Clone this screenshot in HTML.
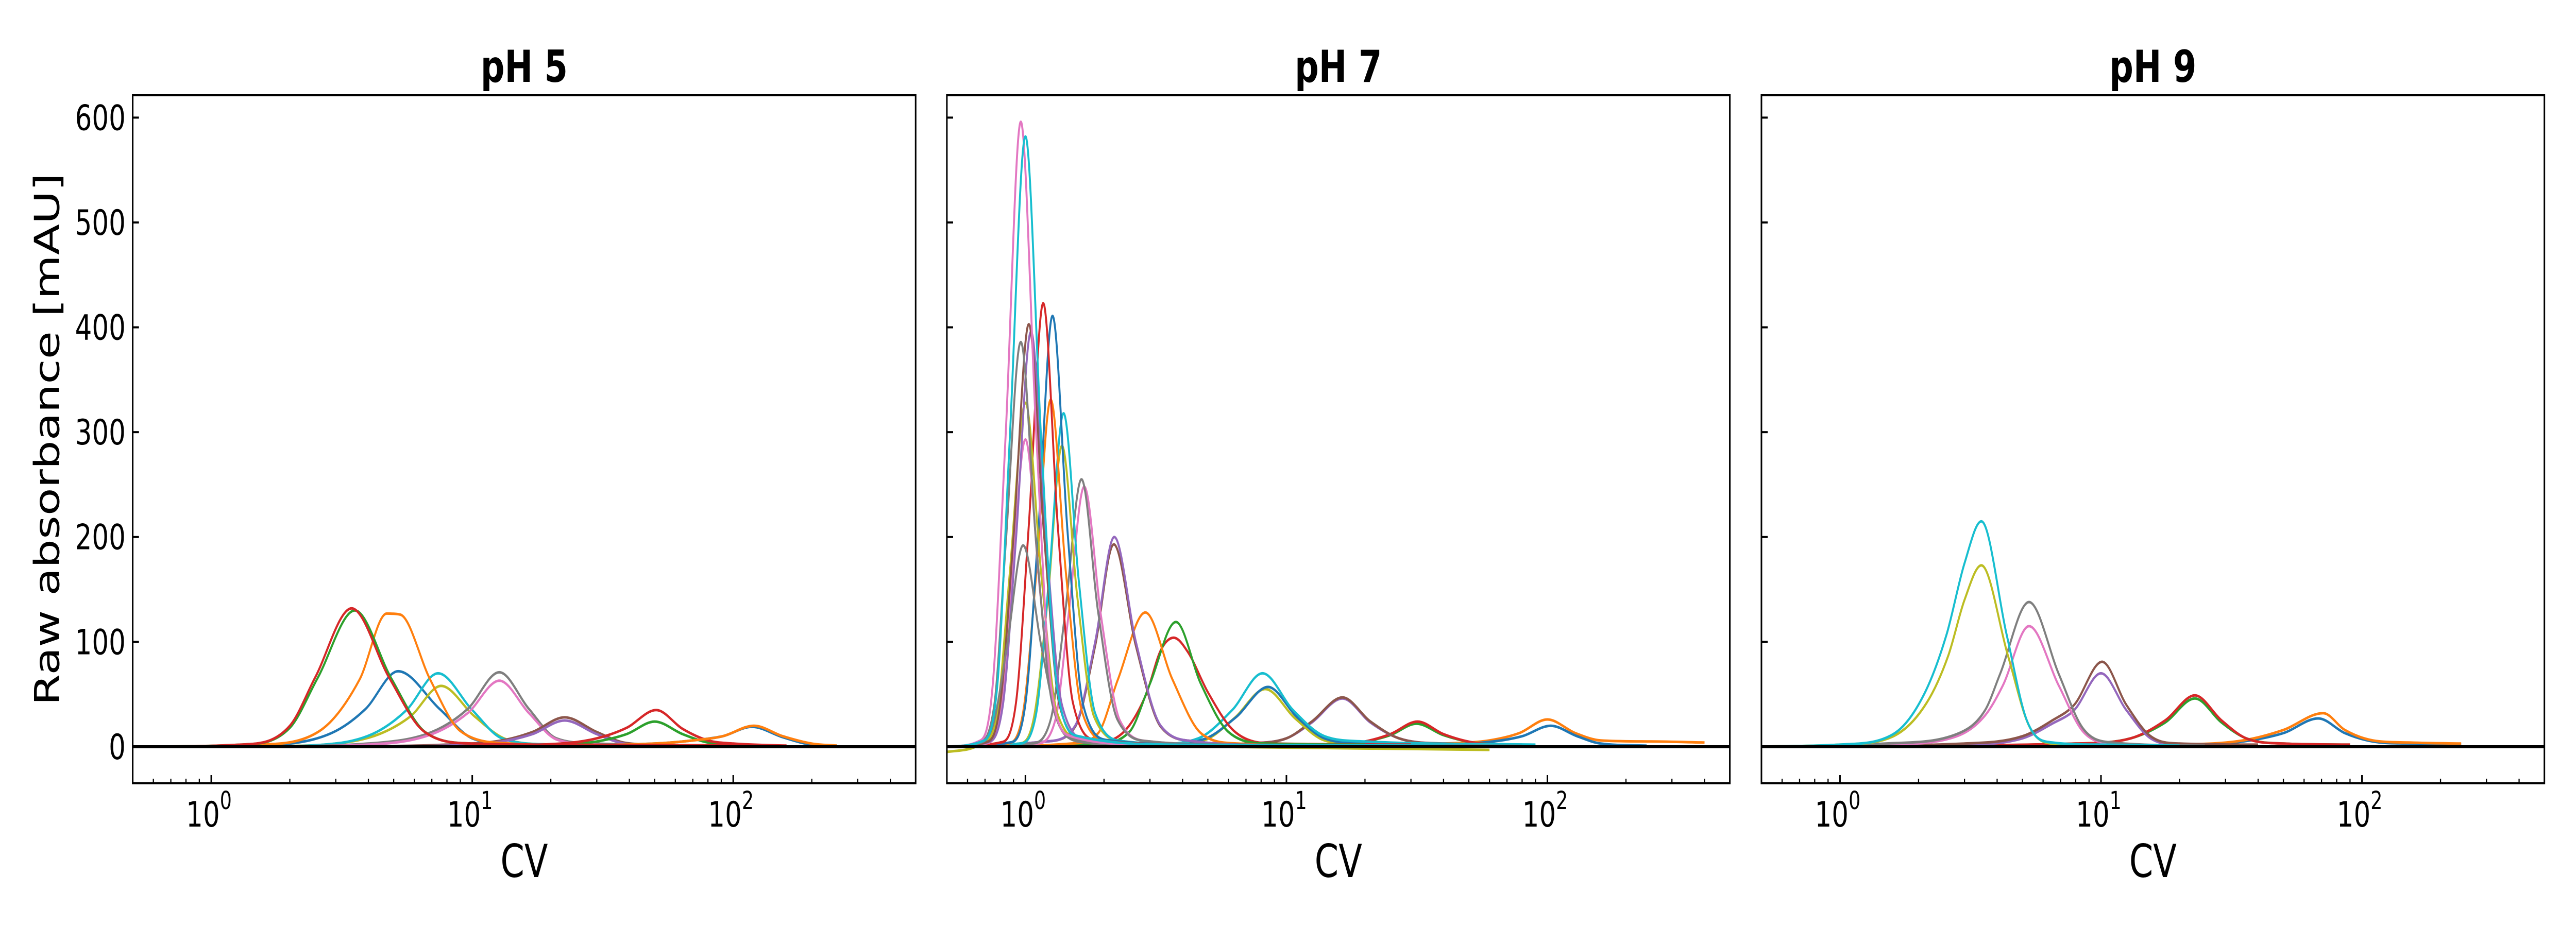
<!DOCTYPE html>
<html><head><meta charset="utf-8"><style>
html,body{margin:0;padding:0;background:#fff;width:100vw;height:100vh;overflow:hidden;}
svg{display:block;width:100vw;height:100vh;}
svg text{font-family:"DejaVu Sans","Liberation Sans",sans-serif;}
</style></head><body>
<svg id="chart" xmlns="http://www.w3.org/2000/svg" viewBox="0 0 6600 1800" preserveAspectRatio="none">
<rect width="6600" height="1800" fill="#fff"/>
<text x="0" y="0" transform="translate(151,853) rotate(-90)" text-anchor="middle" font-size="88">Raw absorbance [mAU]</text>
</svg>
<script>
const panelTitles = ["pH 5","pH 7","pH 9"];
const yTicks = [0,100,200,300,400,500,600];
const xMajorTicks = [1,10,100];
const xTickExponents = ["0","1","2"];
const yLimits = [-34.9, 621.3];
const xLimits = [0.5, 500];
// series: [color, [[cv, mAU], ...]]
const seriesPH5 = [
 ["#1f77b4",[[1,0],[2,3],[3.0,15],[3.9,36],[5.2,72],[7.5,36],[10,8],[15,2],[30,1]]],
 ["#bcbd22",[[1.5,0],[3,3],[4.4,12],[5.8,29],[7.6,58],[10.2,29],[13.5,7],[20,2],[35,1]]],
 ["#17becf",[[1.5,0],[3,3],[4.3,14],[5.6,35],[7.4,70],[10,35],[13,8],[20,2],[35,1]]],
 ["#7f7f7f",[[1.5,0],[4,3],[7,14],[9.6,36],[12.7,71],[16.5,36],[21,8],[30,3],[70,1]]],
 ["#e377c2",[[1.5,0],[4,2],[7,12],[9.6,32],[12.7,63],[16.5,32],[21,7],[30,2],[50,0]]],
 ["#8c564b",[[3,0],[8,2],[13,6],[17,14],[22.6,28],[30,14],[38,4],[50,2],[70,1]]],
 ["#9467bd",[[3,0],[8,1],[13,5],[17,12],[22.6,25],[30,12],[38,3],[50,1]]],
 ["#2ca02c",[[10,0],[22,2],[30,5],[39,12],[50,24],[64,12],[80,4],[100,2],[120,1]]],
 ["#d62728",[[10,1],[22,3],[30,8],[39,18],[50.7,35],[64,17],[80,6],[100,3],[160,1]]],
 ["#1f77b4",[[20,1],[50,3],[70,6],[91,10],[118,19],[155,9],[200,2],[250,1]]],
 ["#ff7f0e",[[20,1],[50,3],[70,6],[91,10],[120,20],[155,10],[200,3],[250,1]]],
 ["#ff7f0e",[[0.5,0],[1.5,2],[2.6,15],[3.7,64],[4.7,127],[5.3,126],[6.9,64],[9,15],[14,3],[30,1]]],
 ["#2ca02c",[[0.5,0],[1.3,2],[2.0,18],[2.55,65],[3.55,130],[4.9,65],[6.6,14],[10,3],[30,1]]],
 ["#d62728",[[0.5,0],[1.3,2],[2.0,20],[2.5,66],[3.45,132],[4.8,66],[6.5,15],[10,3],[20,2],[160,1]]]
];
const seriesPH7 = [
 ["#ff7f0e",[[10,0],[40,3],[60,6],[78,13],[100,26],[128,13],[160,6],[250,5],[400,4]]],
 ["#1f77b4",[[10,0],[40,2],[62,5],[80,10],[103,20],[130,10],[160,3],[240,1]]],
 ["#2ca02c",[[5,0],[15,2],[20,5],[25,11],[31.5,22],[40,11],[52,4],[70,2],[80,1]]],
 ["#d62728",[[5,0],[15,2],[20,5],[25,12],[31.8,24],[40,12],[52,4],[70,2],[80,1]]],
 ["#9467bd",[[3,0],[7,3],[10,8],[12.5,23],[16.4,46],[21,23],[27,8],[40,3],[80,2]]],
 ["#8c564b",[[3,0],[7,3],[10,8],[12.5,24],[16.4,47],[21,24],[27,8],[40,3],[80,2]]],
 ["#bcbd22",[[1,0],[3,2],[4.8,6],[6.3,27],[8.3,55],[10.8,27],[14,6],[20,2],[60,0]]],
 ["#1f77b4",[[0.5,0],[3,2],[4.8,7],[6.4,28],[8.5,57],[11,28],[14,8],[20,3],[40,1]]],
 ["#17becf",[[0.5,0],[3,2],[4.6,8],[6.2,35],[8.1,70],[10.6,35],[14,10],[20,5],[90,2]]],
 ["#d62728",[[0.7,0],[1.8,3],[2.4,15],[2.9,50],[3.3,92],[3.7,104],[4.2,90],[5.0,52],[6.3,15],[9,3],[30,2]]],
 ["#2ca02c",[[0.7,0],[1.8,2],[2.5,14],[3.0,60],[3.77,119],[4.7,60],[6,14],[8.5,3],[20,2]]],
 ["#ff7f0e",[[0.7,0],[1.5,3],[1.9,13],[2.26,64],[2.88,128],[3.66,64],[4.7,13],[6.5,3],[15,1]]],
 ["#8c564b",[[0.5,0],[1.2,5],[1.55,19],[1.85,96],[2.18,193],[2.65,96],[3.3,19],[4.5,5],[10,1]]],
 ["#9467bd",[[0.5,0],[1.2,5],[1.55,20],[1.85,100],[2.19,200],[2.65,100],[3.3,20],[4.5,5],[10,1]]],
 ["#e377c2",[[0.5,0],[1.1,3],[1.3,25],[1.46,124],[1.68,248],[1.95,124],[2.3,25],[3,5],[6,2]]],
 ["#7f7f7f",[[0.5,0],[1.05,3],[1.25,26],[1.42,128],[1.64,255],[1.9,128],[2.25,26],[3,5],[6,2]]],
 ["#bcbd22",[[0.5,0],[0.95,3],[1.08,29],[1.22,143],[1.38,287],[1.58,143],[1.83,29],[2.4,5],[6,1]]],
 ["#17becf",[[0.5,0],[0.95,3],[1.1,32],[1.23,159],[1.4,318],[1.6,159],[1.85,32],[2.4,5],[6,1]]],
 ["#ff7f0e",[[0.5,0],[0.85,3],[0.98,33],[1.1,165],[1.25,331],[1.43,165],[1.65,33],[2.1,5],[5,1]]],
 ["#1f77b4",[[0.5,0],[0.87,4],[1.0,41],[1.12,205],[1.27,411],[1.45,205],[1.66,41],[2.1,6],[5,2],[60,1]]],
 ["#d62728",[[0.5,0],[0.8,4],[0.92,42],[1.03,211],[1.17,423],[1.33,211],[1.52,42],[1.9,6],[5,2],[80,1]]],
 ["#e377c2",[[0.5,0],[0.7,3],[0.8,30],[0.88,146],[1.0,293],[1.14,146],[1.3,30],[1.65,5],[4,1]]],
 ["#bcbd22",[[0.5,-5],[0.68,3],[0.78,33],[0.87,164],[1.0,328],[1.15,164],[1.32,33],[1.7,5],[5,0],[60,-3]]],
 ["#9467bd",[[0.5,0],[0.71,4],[0.82,40],[0.92,198],[1.05,396],[1.2,198],[1.38,40],[1.75,6],[4,1]]],
 ["#8c564b",[[0.5,0],[0.7,4],[0.8,40],[0.9,200],[1.03,403],[1.18,200],[1.35,40],[1.7,6],[4,1]]],
 ["#7f7f7f",[[0.5,0],[0.66,4],[0.76,40],[0.84,193],[0.96,386],[1.1,193],[1.27,40],[1.6,6],[4,1]]],
 ["#7f7f7f",[[0.5,0],[0.65,3],[0.75,20],[0.85,96],[0.98,192],[1.15,96],[1.35,20],[1.7,4],[3,1]]],
 ["#e377c2",[[0.5,0],[0.66,5],[0.75,60],[0.84,298],[0.96,596],[1.1,298],[1.25,60],[1.5,10],[3,2],[10,0]]],
 ["#17becf",[[0.5,0],[0.68,5],[0.78,58],[0.87,291],[1.0,582],[1.15,291],[1.32,58],[1.6,10],[4,2],[90,1]]]
];
const seriesPH9 = [
 ["#1f77b4",[[2,0],[20,1],[35,5],[50,13],[68,27],[86,13],[110,5],[150,3],[240,2]]],
 ["#ff7f0e",[[2,0],[20,2],[35,6],[50,16],[71,32],[86,16],[110,6],[150,4],[240,3]]],
 ["#2ca02c",[[0.5,0],[8,3],[13,8],[17.6,23],[22.9,46],[29,23],[36,8],[50,3],[90,2]]],
 ["#d62728",[[0.5,0],[8,3],[13,8],[17.6,25],[22.9,49],[29,25],[36,8],[50,3],[90,2]]],
 ["#9467bd",[[0.5,0],[3,2],[5,8],[6.5,22],[7.9,35],[10,70],[12.5,35],[15.5,8],[20,2],[40,1]]],
 ["#8c564b",[[0.5,0],[3,3],[5,10],[6.5,25],[7.9,40],[10.1,81],[12.5,40],[15.5,10],[20,3],[40,2]]],
 ["#e377c2",[[0.5,0],[1.5,2],[2.8,10],[3.6,30],[4.2,58],[5.3,115],[6.9,58],[8.5,15],[11,3],[20,1]]],
 ["#7f7f7f",[[0.5,0],[1.5,3],[2.8,12],[3.6,35],[4.1,69],[5.3,138],[6.9,69],[8.5,18],[11,4],[25,1]]],
 ["#bcbd22",[[0.5,0],[1,2],[1.6,10],[2.15,42],[2.6,87],[3.0,140],[3.48,173],[4.4,87],[5.3,20],[6.5,3],[10,1]]],
 ["#17becf",[[0.5,0],[1,2],[1.6,12],[2.1,50],[2.56,107],[3.0,175],[3.48,215],[4.35,107],[5.2,25],[6.5,4],[10,2],[20,1]]]
];
const allSeries = [seriesPH5, seriesPH7, seriesPH9];

const NS = "http://www.w3.org/2000/svg";
const svg = document.getElementById('chart');
const panelLeft = [340, 2426, 4513];
const PW = 2006, PT = 185, PB = 1521;
function mk(tag, attrs, parent){const e=document.createElementNS(NS,tag);for(const k in attrs)e.setAttribute(k,attrs[k]);(parent||svg).appendChild(e);return e;}
function xScale(p, v){return panelLeft[p] + (Math.log10(v)-Math.log10(xLimits[0]))/(Math.log10(xLimits[1])-Math.log10(xLimits[0]))*PW;}
function yScale(v){return PT + (yLimits[1]-v)/(yLimits[1]-yLimits[0])*(PB-PT);}

function monotonePath(pts){
  const n=pts.length, xs=pts.map(p=>p[0]), ys=pts.map(p=>p[1]);
  const d=[],m=new Array(n);
  for(let i=0;i<n-1;i++) d.push((ys[i+1]-ys[i])/(xs[i+1]-xs[i]));
  m[0]=d[0]; m[n-1]=d[n-2];
  for(let i=1;i<n-1;i++){ m[i]=(d[i-1]*d[i]<=0)?0:(d[i-1]+d[i])/2; }
  for(let i=0;i<n-1;i++){ if(d[i]===0){m[i]=0;m[i+1]=0;continue;} const a=m[i]/d[i],b=m[i+1]/d[i],s=a*a+b*b; if(s>9){const t=3/Math.sqrt(s);m[i]=t*a*d[i];m[i+1]=t*b*d[i];} }
  let s="M"+xs[0].toFixed(1)+","+ys[0].toFixed(1);
  for(let i=0;i<n-1;i++){const h=xs[i+1]-xs[i];
    s+=" C"+(xs[i]+h/3).toFixed(1)+","+(ys[i]+m[i]*h/3).toFixed(1)+" "+(xs[i+1]-h/3).toFixed(1)+","+(ys[i+1]-m[i+1]*h/3).toFixed(1)+" "+xs[i+1].toFixed(1)+","+ys[i+1].toFixed(1);}
  return s;
}

for(let p=0;p<3;p++){
  const L=panelLeft[p], R=L+PW;
  const g=mk('g',{});
  
  
  const cid='clip'+p;
  const cp=mk('clipPath',{id:cid},g); mk('rect',{x:L,y:PT,width:PW,height:PB-PT},cp);
  const cg=mk('g',{'clip-path':'url(#'+cid+')'},g);
  allSeries[p].forEach((s,i)=>{
    const pts=s[1].map(q=>[xScale(p,q[0]),yScale(q[1])]);
    const path=mk('path',{d:monotonePath(pts),fill:'none',stroke:s[0],'stroke-width':5,'stroke-linejoin':'round'},cg);
    
    
  });
  const zl=mk('line',{x1:L,x2:R,y1:yScale(0),y2:yScale(0),stroke:'#000','stroke-width':6},g);
  
  
  yTicks.forEach(v=>{
    const y=yScale(v);
    mk('line',{x1:L,x2:L+16,y1:y,y2:y,stroke:'#000','stroke-width':4},g);
    if(p===0){const t=mk('text',{x:L-18,y:y+24,'text-anchor':'end','font-size':68},g);t.textContent=v;
      
      }
  });
  for(let dec=-1;dec<=2;dec++){
    for(let k=1;k<=9;k++){
      const v=k*Math.pow(10,dec); if(v<xLimits[0]||v>xLimits[1]) continue;
      const x=xScale(p,v); const major=(k===1);
      mk('line',{x1:x,x2:x,y1:PB,y2:PB-(major?16:9),stroke:'#000','stroke-width':major?4:3},g);
    }
  }
  xMajorTicks.forEach((v,i)=>{
    const x=xScale(p,v);
    const t=mk('text',{x:x-6,y:1605,'text-anchor':'middle','font-size':68},g);
    
    
    t.appendChild(document.createTextNode('10'));
    const sp=mk('tspan',{dy:-34,'font-size':48},t); sp.textContent=xTickExponents[i];
  });
  mk('rect',{x:L,y:PT,width:PW,height:PB-PT,fill:'none',stroke:'#000','stroke-width':4},g);
  const tt=mk('text',{x:L+PW/2,y:159,'text-anchor':'middle','font-size':86,'font-weight':'bold'},g);
  tt.textContent=panelTitles[p];
  
  
  const xt=mk('text',{x:L+PW/2,y:1703,'text-anchor':'middle','font-size':88},g);
  xt.textContent='CV';
  
  
}
</script>
</body></html>
